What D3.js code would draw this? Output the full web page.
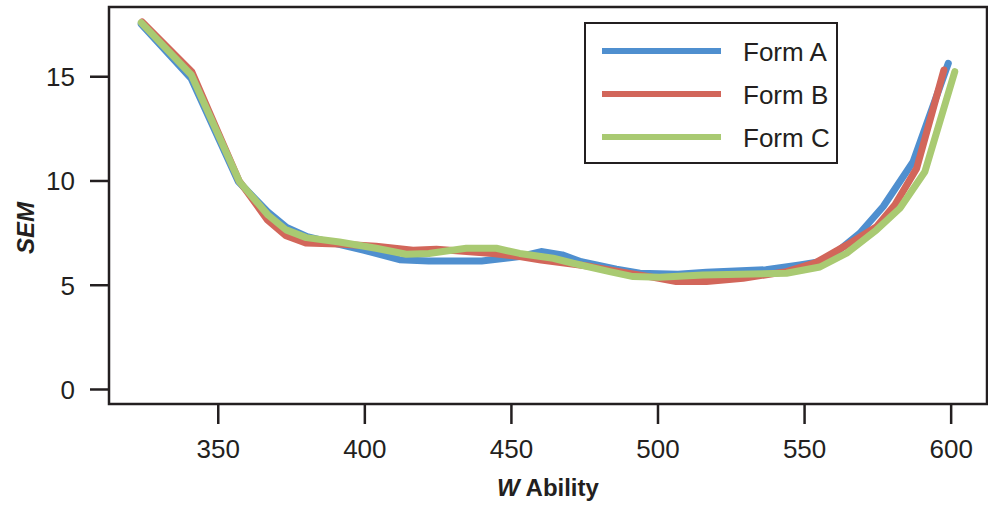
<!DOCTYPE html>
<html>
<head>
<meta charset="utf-8">
<script src="https://cdn.jsdelivr.net/npm/d3@7"></script>
<style>
  html, body { margin: 0; padding: 0; background: #fff; }
  svg { display: block; font-family: "Liberation Sans Narrow", "Arial Narrow", sans-serif; }
</style>
</head>
<body>
<svg id="chart" width="988" height="507"></svg>
<script>
// ---- data ----
const seriesNames = ["Form A", "Form B", "Form C"];
const seriesColors = ["#4f8fcf", "#d2665a", "#a9ca72"];

const formA_W   = [323.9, 340.9, 357.0, 367.0, 373.5, 380.5, 391.0, 400.0, 412.0, 422.0, 440.0, 453.0, 460.3, 467.5, 474.0, 486.0, 494.0, 507.0, 516.7, 537.0, 548.5, 555.4, 562.0, 569.0, 577.0, 587.2, 599.2];
const formA_SEM = [17.50, 14.90, 9.95, 8.50, 7.75, 7.30, 6.95, 6.65, 6.20, 6.14, 6.14, 6.35, 6.59, 6.43, 6.10, 5.75, 5.55, 5.50, 5.60, 5.72, 5.95, 6.10, 6.67, 7.47, 8.75, 10.90, 15.62];

const formB_W   = [324.2, 341.2, 357.2, 367.0, 373.3, 380.0, 391.0, 404.0, 416.6, 424.6, 443.8, 453.0, 460.3, 477.4, 487.0, 497.2, 506.4, 516.7, 529.2, 544.0, 554.0, 564.5, 574.7, 581.0, 588.4, 597.7];
const formB_SEM = [17.60, 15.20, 10.00, 8.10, 7.35, 7.00, 6.95, 6.85, 6.65, 6.70, 6.50, 6.35, 6.19, 5.87, 5.63, 5.39, 5.15, 5.15, 5.31, 5.63, 6.06, 6.90, 7.78, 8.83, 10.58, 15.30];

const formC_W   = [323.9, 341.0, 357.4, 367.1, 373.3, 380.2, 391.5, 404.0, 414.3, 422.0, 434.8, 445.0, 453.0, 464.4, 471.2, 483.7, 491.7, 500.7, 515.5, 544.0, 555.4, 564.5, 574.7, 582.7, 591.2, 601.4];
const formC_SEM = [17.57, 15.06, 9.94, 8.35, 7.63, 7.26, 7.05, 6.75, 6.46, 6.50, 6.75, 6.75, 6.50, 6.27, 6.03, 5.63, 5.39, 5.36, 5.47, 5.55, 5.85, 6.51, 7.63, 8.67, 10.42, 15.22];

const xTicks = [350, 400, 450, 500, 550, 600];
const yTicks = [0, 5, 10, 15];
const xTitleItalic = "W";
const xTitleRest = " Ability";
const yTitle = "SEM";

// ---- layout ----
const ink = "#231f20";
const svg = d3.select("#chart");
const plot = { left: 109, top: 7, right: 987, bottom: 404 };

const x = d3.scaleLinear().domain([312.9, 612.4]).range([plot.left, plot.right]);
const y = d3.scaleLinear().domain([-0.72, 18.32]).range([plot.bottom, plot.top]);

const series = [
  { name: seriesNames[0], color: seriesColors[0], pts: formA_W.map((w, i) => [w, formA_SEM[i]]) },
  { name: seriesNames[1], color: seriesColors[1], pts: formB_W.map((w, i) => [w, formB_SEM[i]]) },
  { name: seriesNames[2], color: seriesColors[2], pts: formC_W.map((w, i) => [w, formC_SEM[i]]) }
];

// axes
const xAxis = d3.axisBottom(x).tickValues(xTicks).tickSize(20).tickPadding(16).tickFormat(d3.format("d"));
const gx = svg.append("g").attr("transform", `translate(0,${plot.bottom})`).call(xAxis);
const yAxis = d3.axisLeft(y).tickValues(yTicks).tickSize(19).tickPadding(15).tickFormat(d3.format("d"));
const gy = svg.append("g").attr("transform", `translate(${plot.left},0)`).call(yAxis);

[gx, gy].forEach(g => {
  g.select(".domain").remove();
  g.selectAll(".tick line").attr("stroke", ink).attr("stroke-width", 2.5);
  g.selectAll(".tick text").attr("fill", ink).attr("font-size", 26)
    .attr("font-family", "'Liberation Sans Narrow', 'Arial Narrow', sans-serif");
});
gx.selectAll(".tick text").attr("dy", "0.71em");
gy.selectAll(".tick text").attr("dy", "0.36em");

// lines
const line = d3.line().x(d => x(d[0])).y(d => y(d[1]));
svg.append("g").selectAll("path").data(series).join("path")
  .attr("d", d => line(d.pts))
  .attr("fill", "none")
  .attr("stroke", d => d.color)
  .attr("stroke-width", 7)
  .attr("stroke-linecap", "round")
  .attr("stroke-linejoin", "round");

// frame
svg.append("rect")
  .attr("x", plot.left).attr("y", plot.top)
  .attr("width", plot.right - plot.left).attr("height", plot.bottom - plot.top)
  .attr("fill", "none").attr("stroke", ink).attr("stroke-width", 2.5);

// legend
const lg = svg.append("g");
lg.append("rect").attr("x", 585).attr("y", 23).attr("width", 252).attr("height", 140)
  .attr("fill", "#fff").attr("stroke", ink).attr("stroke-width", 2);
series.forEach((s, i) => {
  const cy = 51 + i * 43;
  lg.append("line").attr("x1", 602).attr("x2", 721).attr("y1", cy).attr("y2", cy)
    .attr("stroke", s.color).attr("stroke-width", 6);
  lg.append("text").attr("x", 743).attr("y", cy + 10).attr("font-size", 26).attr("fill", ink)
    .text(s.name);
});

// titles
const xt = svg.append("text").attr("x", (plot.left + plot.right) / 2).attr("y", 496)
  .attr("text-anchor", "middle").attr("font-size", 24).attr("font-weight", "bold").attr("fill", ink);
xt.append("tspan").attr("font-style", "italic").text(xTitleItalic);
xt.append("tspan").text(xTitleRest);

svg.append("text").attr("transform", "translate(34,228) rotate(-90)")
  .attr("text-anchor", "middle").attr("font-size", 24).attr("font-weight", "bold")
  .attr("font-style", "italic").attr("fill", ink).text(yTitle);
</script>
</body>
</html>
